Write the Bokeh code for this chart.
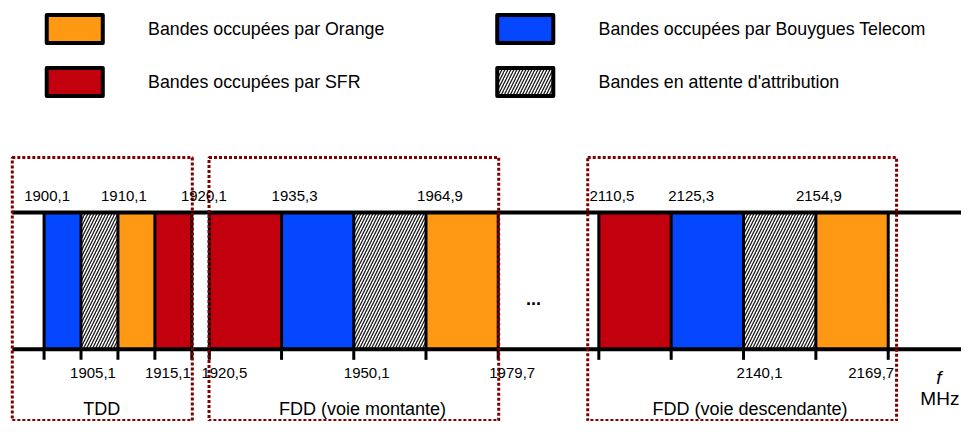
from bokeh.plotting import figure
from bokeh.models import Range1d
from bokeh.core.properties import value
from bokeh.embed import file_html
from bokeh.resources import INLINE

# ---------------- data ----------------
tdd_edges = [1900.1, 1905.1, 1910.1, 1915.1, 1920.1]
tdd_ops = ["Bouygues Telecom", "Attente", "Orange", "SFR"]
tdd_top = [1900.1, 1910.1, 1920.1]
tdd_bottom = [1905.1, 1915.1]

up_edges = [1920.5, 1935.3, 1950.1, 1964.9, 1979.7]
up_ops = ["SFR", "Bouygues Telecom", "Attente", "Orange"]
up_top = [1935.3, 1964.9]
up_bottom = [1920.5, 1950.1, 1979.7]

down_edges = [2110.5, 2125.3, 2140.1, 2154.9, 2169.7]
down_ops = ["SFR", "Bouygues Telecom", "Attente", "Orange"]
down_top = [2110.5, 2125.3, 2154.9]
down_bottom = [2140.1, 2169.7]

segment_names = ["TDD", "FDD (voie montante)", "FDD (voie descendante)"]

legend_ops = ["Orange", "SFR", "Bouygues Telecom", "Attente"]
legend_labels = ["Bandes occupées par Orange", "Bandes occupées par SFR",
                 "Bandes occupées par Bouygues Telecom", "Bandes en attente d'attribution"]

# ---------------- styles / layout ----------------
COLORS = {"Orange": "#FF9914", "SFR": "#C2000E", "Bouygues Telecom": "#0546FF", "Attente": "white"}
HATCH = dict(hatch_pattern="/", hatch_color="#1a1a1a", hatch_scale=6, hatch_weight=1.3)
FONT = value("Liberation Sans")
X0, X1 = 0, 977          # drawing coordinate system (reference pixels)
Y_TOP, Y_BOT = 0, 437

LINE_TOP, LINE_BOT, TICK_BOT = 220, 362, 373
TOP_LABEL_Y, BOT_LABEL_Y, NAME_Y = 203, 387, 424

segments = [
    dict(key="tdd", edges=tdd_edges, ops=tdd_ops, top=tdd_top, bottom=tdd_bottom,
         px=(44.3, 194.5), frame=(12, 195), top_dx=[3, 6, 12], bot_dx=[12, 13], name_x=103),
    dict(key="up", edges=up_edges, ops=up_ops, top=up_top, bottom=up_bottom,
         px=(212.3, 506), frame=(212, 506.5), top_dx=[13, 14], bot_dx=[15, 13, 14], name_x=368),
    dict(key="down", edges=down_edges, ops=down_ops, top=down_top, bottom=down_bottom,
         px=(608.3, 902.5), frame=(597, 911), top_dx=[13, 20, 3], bot_dx=[16, -17], name_x=762),
]

p = figure(width=961, height=421, output_backend="svg", toolbar_location=None,
           x_range=Range1d(X0, X1), y_range=Range1d(Y_BOT, Y_TOP),
           x_axis_location=None, y_axis_location=None, min_border=0)
p.grid.visible = False
p.outline_line_color = None
p.background_fill_color = "white"
p.border_fill_color = "white"

# one x scale per frequency block (the diagram is schematic)
for s in segments:
    e0, e1 = s["edges"][0], s["edges"][-1]
    p0, p1 = s["px"]
    k = (p1 - p0) / (e1 - e0)
    p.extra_x_ranges[s["key"]] = Range1d(e0 - (p0 - X0) / k, e0 + (X1 - p0) / k)


def fmt(v):
    return f"{v:.1f}".replace(".", ",")


# bands
for s in segments:
    for i, op in enumerate(s["ops"]):
        kw = HATCH if op == "Attente" else {}
        p.quad(left=[s["edges"][i]], right=[s["edges"][i + 1]], top=[LINE_TOP], bottom=[LINE_BOT],
               fill_color=COLORS[op], line_color=None, x_range_name=s["key"], **kw)

# horizontal lines
p.segment(x0=[12, 12], y0=[LINE_TOP, LINE_BOT], x1=[X1, X1], y1=[LINE_TOP, LINE_BOT],
          line_color="black", line_width=4)

# separators / ticks
for s in segments:
    n = len(s["edges"])
    p.segment(x0=s["edges"], x1=s["edges"], y0=[LINE_TOP] * n, y1=[TICK_BOT] * n,
              line_color="black", line_width=3, x_range_name=s["key"])

# dotted frames
for s in segments:
    l, r = s["frame"]
    p.quad(left=[l], right=[r], top=[163], bottom=[436], fill_alpha=0,
           line_color="#800000", line_width=3, line_dash="3 2")

# frequency labels
for s in segments:
    p.text(x=s["top"], y=[TOP_LABEL_Y] * len(s["top"]), text=[fmt(v) for v in s["top"]],
           x_offset=s["top_dx"], text_align="center", text_baseline="middle",
           text_font=FONT, text_font_size="15px", text_color="black", x_range_name=s["key"])
    p.text(x=s["bottom"], y=[BOT_LABEL_Y] * len(s["bottom"]), text=[fmt(v) for v in s["bottom"]],
           x_offset=s["bot_dx"], text_align="center", text_baseline="middle",
           text_font=FONT, text_font_size="15px", text_color="black", x_range_name=s["key"])

# block names
p.text(x=[s["name_x"] for s in segments], y=[NAME_Y] * 3, text=segment_names,
       text_align="center", text_baseline="middle", text_font=FONT,
       text_font_size="18px", text_color="black")

# ellipsis between blocks
p.text(x=[542], y=[309], text=["..."], text_align="center", text_baseline="alphabetic",
       text_font=FONT, text_font_size="18px", text_font_style="bold", text_color="black")

# frequency unit
p.text(x=[954], y=[391], text=["f"], text_align="center", text_baseline="middle",
       text_font=FONT, text_font_size="19px", text_font_style="italic", text_color="black")
p.text(x=[955], y=[413], text=["MHz"], text_align="center", text_baseline="middle",
       text_font=FONT, text_font_size="19px", text_color="black")

# legend
leg_box_x = [(47, 104), (47, 104), (505, 562), (505, 562)]
leg_box_y = [(15, 44), (70, 99), (15, 44), (70, 99)]
leg_text_x = [150, 150, 608, 608]
for i, op in enumerate(legend_ops):
    kw = HATCH if op == "Attente" else {}
    p.quad(left=[leg_box_x[i][0]], right=[leg_box_x[i][1]], top=[leg_box_y[i][0]],
           bottom=[leg_box_y[i][1]], fill_color=COLORS[op], line_color="black",
           line_width=4, line_join="round", **kw)
p.text(x=leg_text_x, y=[(a + b) / 2 for a, b in leg_box_y], text=legend_labels,
       text_align="left", text_baseline="middle", text_font=FONT,
       text_font_size="17.8px", text_color="black")

open("out.html", "w").write(file_html(p, INLINE))
